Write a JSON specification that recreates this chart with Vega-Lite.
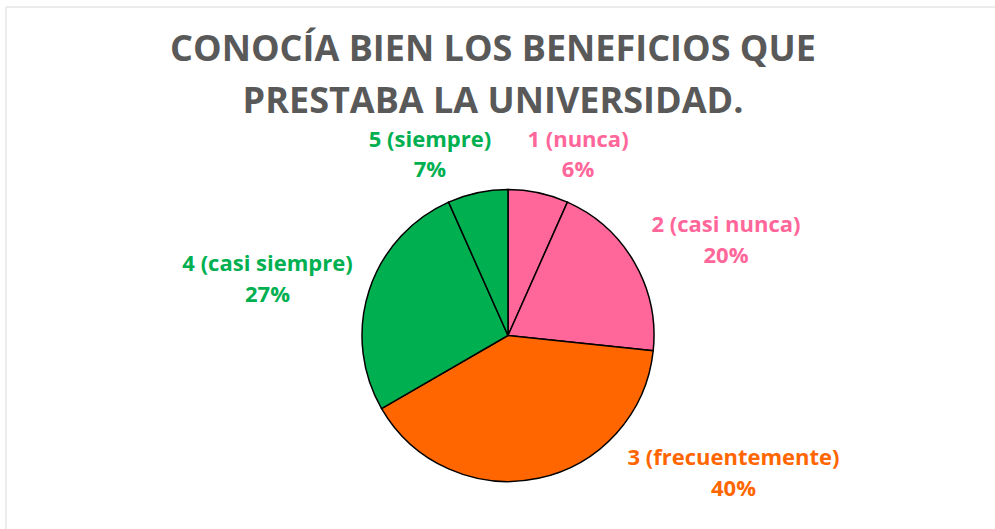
{
  "$schema": "https://vega.github.io/schema/vega-lite/v6.json",
  "width": 1004,
  "height": 657,
  "autosize": "none",
  "padding": {"left": 6, "top": 7, "right": -15, "bottom": -135},
  "background": "white",
  "config": {"view": {"stroke": null}},
  "title": {
    "text": ["CONOCÍA BIEN LOS BENEFICIOS QUE", "PRESTABA LA UNIVERSIDAD."],
    "font": "Open Sans",
    "fontWeight": 700,
    "fontSize": 36,
    "color": "#595959",
    "lineHeight": 52.5,
    "anchor": "middle",
    "frame": "group",
    "dx": -15,
    "offset": -114.5
  },
  "data": {
    "values": [
      {"cat": "1 (nunca)", "pct": 6.67, "label": "1 (nunca)\n6%"},
      {"cat": "2 (casi nunca)", "pct": 20, "label": "2 (casi nunca)\n20%"},
      {"cat": "3 (frecuentemente)", "pct": 40, "label": "3 (frecuentemente)\n40%"},
      {"cat": "4 (casi siempre)", "pct": 26.67, "label": "4 (casi siempre)\n27%"},
      {"cat": "5 (siempre)", "pct": 6.67, "label": "5 (siempre)\n7%"}
    ]
  },
  "layer": [
    {
      "data": {"values": [{}]},
      "mark": {"type": "rect", "filled": false, "color": "#D9D9D9", "strokeWidth": 1},
      "encoding": {}
    },
    {
      "encoding": {
        "theta": {"field": "pct", "type": "quantitative", "stack": true},
        "color": {
          "field": "cat",
          "type": "nominal",
          "scale": {
            "domain": ["1 (nunca)", "2 (casi nunca)", "3 (frecuentemente)", "4 (casi siempre)", "5 (siempre)"],
            "range": ["#FF6699", "#FF6699", "#FF6600", "#00B050", "#00B050"]
          },
          "legend": null
        }
      },
      "layer": [
        {"mark": {"type": "arc", "outerRadius": 146, "stroke": "black", "strokeWidth": 1.5}},
        {
          "mark": {"type": "text", "radius": 201.4, "thetaOffset": 0.1456, "font": "Open Sans", "fontWeight": 700, "fontSize": 22, "lineBreak": "\n", "lineHeight": 30, "baseline": "alphabetic", "align": "center"},
          "encoding": {"text": {"condition": {"test": "datum.cat !== '1 (nunca)'", "value": ""}, "field": "label", "type": "nominal"}}
        },
        {
          "mark": {"type": "text", "radius": 241.4, "thetaOffset": 0.0792, "font": "Open Sans", "fontWeight": 700, "fontSize": 22, "lineBreak": "\n", "lineHeight": 31, "baseline": "alphabetic", "align": "center"},
          "encoding": {"text": {"condition": {"test": "datum.cat !== '2 (casi nunca)'", "value": ""}, "field": "label", "type": "nominal"}}
        },
        {
          "mark": {"type": "text", "radius": 260, "thetaOffset": -0.84, "font": "Open Sans", "fontWeight": 700, "fontSize": 22, "lineBreak": "\n", "lineHeight": 31, "baseline": "alphabetic", "align": "center"},
          "encoding": {"text": {"condition": {"test": "datum.cat !== '3 (frecuentemente)'", "value": ""}, "field": "label", "type": "nominal"}}
        },
        {
          "mark": {"type": "text", "radius": 249, "thetaOffset": -0.0518, "font": "Open Sans", "fontWeight": 700, "fontSize": 22, "lineBreak": "\n", "lineHeight": 31, "baseline": "alphabetic", "align": "center"},
          "encoding": {"text": {"condition": {"test": "datum.cat !== '4 (casi siempre)'", "value": ""}, "field": "label", "type": "nominal"}}
        },
        {
          "mark": {"type": "text", "radius": 204.3, "thetaOffset": -0.1824, "font": "Open Sans", "fontWeight": 700, "fontSize": 22, "lineBreak": "\n", "lineHeight": 30, "baseline": "alphabetic", "align": "center"},
          "encoding": {"text": {"condition": {"test": "datum.cat !== '5 (siempre)'", "value": ""}, "field": "label", "type": "nominal"}}
        }
      ]
    }
  ]
}
